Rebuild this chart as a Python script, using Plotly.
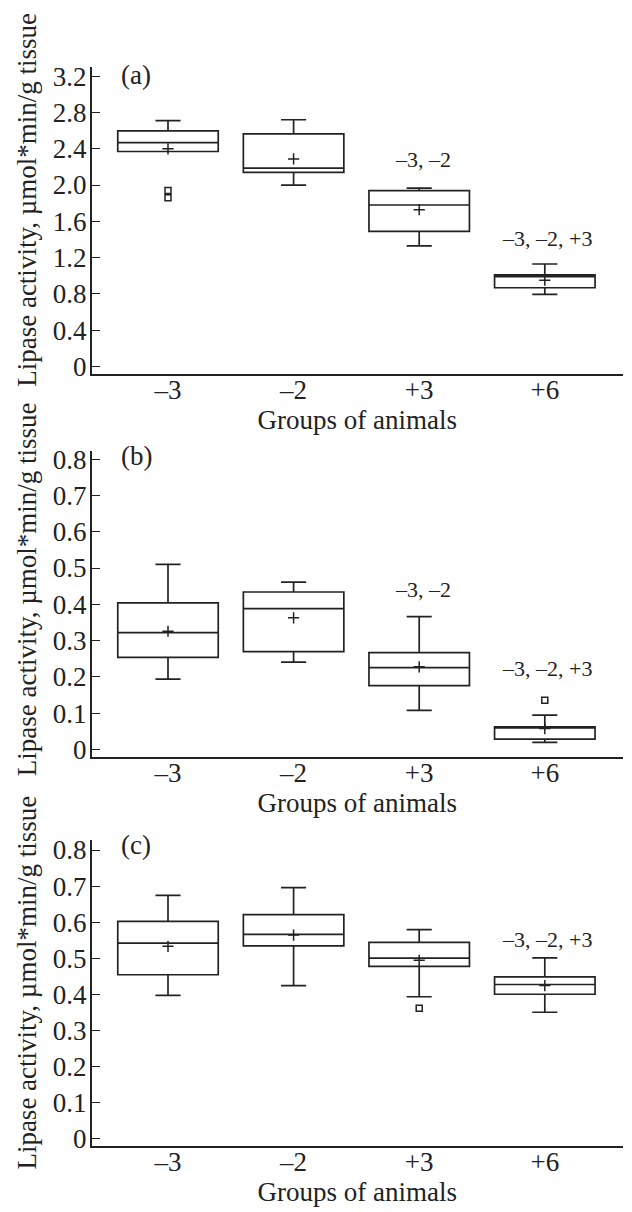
import plotly.graph_objects as go

# ---------------- data ----------------
groups = ["\u20133", "\u20132", "+3", "+6"]
group_pos = [0, 1, 2, 3]

# panel (a)
a_q1 = [2.37, 2.14, 1.49, 0.867]
a_median = [2.467, 2.186, 1.78, 0.99]
a_q3 = [2.597, 2.565, 1.939, 1.009]
a_low = [2.37, 2.00, 1.328, 0.794]
a_up = [2.71, 2.72, 1.965, 1.129]
a_mean = [2.40, 2.288, 1.728, 0.951]
a_out_x = [0, 0]
a_out_y = [1.94, 1.86]

# panel (b)
b_q1 = [0.254, 0.270, 0.176, 0.029]
b_median = [0.322, 0.388, 0.226, 0.060]
b_q3 = [0.404, 0.434, 0.267, 0.063]
b_low = [0.194, 0.241, 0.108, 0.020]
b_up = [0.510, 0.461, 0.366, 0.095]
b_mean = [0.326, 0.363, 0.228, 0.058]
b_out_x = [3]
b_out_y = [0.136]

# panel (c)
c_q1 = [0.454, 0.534, 0.477, 0.400]
c_median = [0.542, 0.566, 0.500, 0.427]
c_q3 = [0.602, 0.621, 0.544, 0.448]
c_low = [0.397, 0.424, 0.393, 0.350]
c_up = [0.674, 0.696, 0.579, 0.501]
c_mean = [0.533, 0.564, 0.494, 0.424]
c_out_x = [2]
c_out_y = [0.361]

a_ticks = [0, 0.4, 0.8, 1.2, 1.6, 2.0, 2.4, 2.8, 3.2]
a_ticktext = ["0", "0.4", "0.8", "1.2", "1.6", "2.0", "2.4", "2.8", "3.2"]
bc_ticks = [0, 0.1, 0.2, 0.3, 0.4, 0.5, 0.6, 0.7, 0.8]
bc_ticktext = ["0", "0.1", "0.2", "0.3", "0.4", "0.5", "0.6", "0.7", "0.8"]

# significance labels: (x position, y value, text)
a_sig = [(2.03, 2.285, "\u20133, \u20132"), (3.02, 1.41, "\u20133, \u20132, +3")]
b_sig = [(2.03, 0.44, "\u20133, \u20132"), (3.02, 0.223, "\u20133, \u20132, +3")]
c_sig = [(3.02, 0.551, "\u20133, \u20132, +3")]

ytitle = "Lipase activity, \u00b5mol*min/g tissue"
xtitle = "Groups of animals"
panel_labels = ["(a)", "(b)", "(c)"]

# ---------------- figure ----------------
OFF = 8               # page body margin of the browser
W, H = 632 - OFF, 1212 - OFF
INK = "#222222"
FONT = "Liberation Serif, Times New Roman, serif"


def px_x(px):
    return (px - OFF) / W


def px_y(py):
    return 1 - (py - OFF) / H


fig = go.Figure()

panels = [
    dict(q1=a_q1, med=a_median, q3=a_q3, lo=a_low, up=a_up, mean=a_mean,
         ox=a_out_x, oy=a_out_y, sig=a_sig, ax=""),
    dict(q1=b_q1, med=b_median, q3=b_q3, lo=b_low, up=b_up, mean=b_mean,
         ox=b_out_x, oy=b_out_y, sig=b_sig, ax="2"),
    dict(q1=c_q1, med=c_median, q3=c_q3, lo=c_low, up=c_up, mean=c_mean,
         ox=c_out_x, oy=c_out_y, sig=c_sig, ax="3"),
]

for p in panels:
    xa, ya = "x" + p["ax"], "y" + p["ax"]
    fig.add_trace(go.Box(
        x=group_pos, q1=p["q1"], median=p["med"], q3=p["q3"],
        lowerfence=p["lo"], upperfence=p["up"],
        width=0.8, whiskerwidth=0.25, boxpoints=False,
        fillcolor="rgba(0,0,0,0)", line=dict(color=INK, width=1.7),
        xaxis=xa, yaxis=ya, showlegend=False))
    fig.add_trace(go.Scatter(
        x=group_pos, y=p["mean"], mode="markers",
        marker=dict(symbol="cross-thin", size=8, line=dict(color=INK, width=1.5)),
        xaxis=xa, yaxis=ya, showlegend=False))
    fig.add_trace(go.Scatter(
        x=p["ox"], y=p["oy"], mode="markers",
        marker=dict(symbol="square-open", size=6, color=INK, line=dict(width=1.5)),
        xaxis=xa, yaxis=ya, showlegend=False))
    for sx, sy, st in p["sig"]:
        fig.add_annotation(x=sx, y=sy, xref=xa, yref=ya, text=st, showarrow=False,
                           xanchor="center", yanchor="middle",
                           font=dict(family=FONT, size=22, color=INK))

# reference-pixel layout (top, bottom) of each plot area
px_boxes = [(62, 372.3), (450, 760), (843.3, 1153.3)]
yranges = [[-0.085, 3.298], [-0.021, 0.8226], [-0.021, 0.829]]
ticks = [(a_ticks, a_ticktext), (bc_ticks, bc_ticktext), (bc_ticks, bc_ticktext)]
xdom = [px_x(91.7), px_x(623)]
title_centers = [196, 590, 988]
label_y = [70, 455, 849]

for i, (top, bot) in enumerate(px_boxes):
    suffix = "" if i == 0 else str(i + 1)
    ydom = [px_y(bot), px_y(top)]
    axis_common = dict(showline=True, linecolor=INK, linewidth=1.6,
                       showgrid=False, zeroline=False, mirror=False,
                       tickfont=dict(family=FONT, size=27, color=INK))
    fig.update_layout(**{
        "xaxis" + suffix: dict(
            domain=xdom, range=[-0.6075, 3.6226], tickvals=group_pos, ticktext=groups,
            ticks="", anchor="y" + suffix, ticklabelstandoff=-9,
            title=dict(text=xtitle, font=dict(family=FONT, size=27, color=INK), standoff=2),
            **axis_common),
        "yaxis" + suffix: dict(
            domain=ydom, range=yranges[i], tickvals=ticks[i][0], ticktext=ticks[i][1],
            ticks="inside", ticklen=8, tickwidth=1.3, tickcolor=INK,
            ticklabelstandoff=-2,
            anchor="x" + suffix, **axis_common),
    })
    fig.add_annotation(x=px_x(27), y=px_y(title_centers[i]), xref="paper", yref="paper",
                       text=ytitle, textangle=-90, showarrow=False,
                       xanchor="center", yanchor="middle",
                       font=dict(family=FONT, size=27, color=INK))
    fig.add_annotation(x=px_x(136), y=px_y(label_y[i]), xref="paper", yref="paper",
                       text=panel_labels[i], showarrow=False,
                       xanchor="center", yanchor="middle",
                       font=dict(family=FONT, size=27, color=INK))

fig.update_layout(width=W, height=H, margin=dict(l=0, r=0, t=0, b=0),
                  paper_bgcolor="white", plot_bgcolor="white",
                  font=dict(family=FONT, color=INK), showlegend=False)

fig.write_html("out.html")
